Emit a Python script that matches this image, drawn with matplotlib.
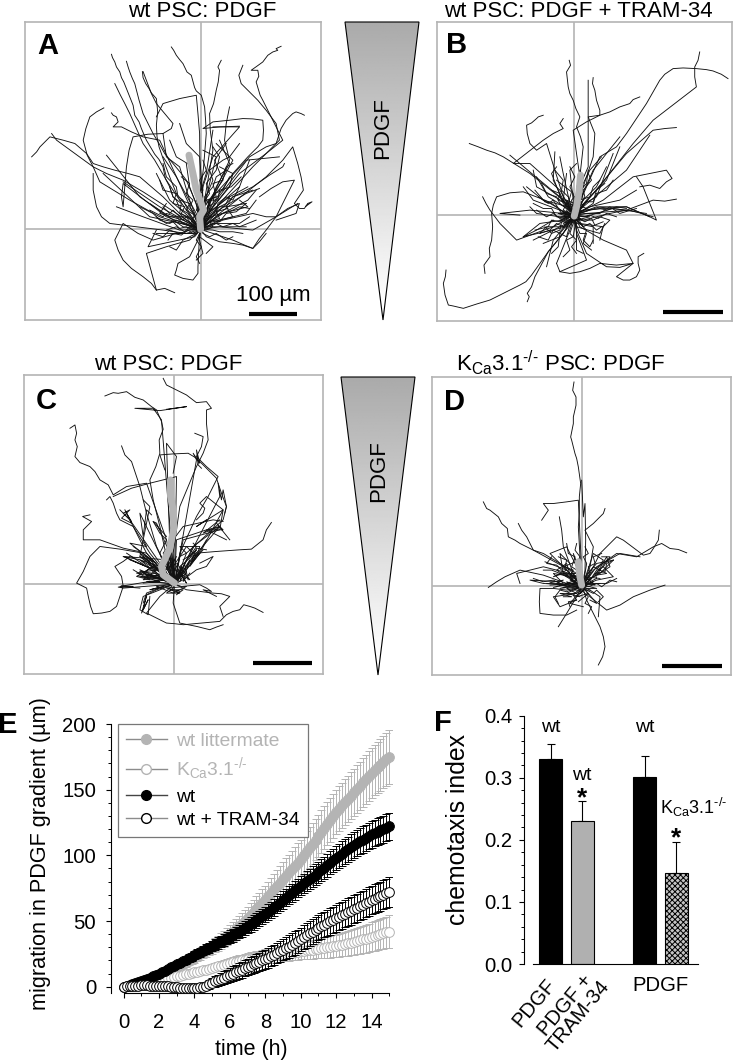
import numpy as np
import matplotlib
matplotlib.use('Agg')
import matplotlib.pyplot as plt
from matplotlib.patches import Polygon
from matplotlib.lines import Line2D
from matplotlib.ticker import MultipleLocator
from matplotlib.transforms import ScaledTranslation

plt.rcParams['font.family'] = ['Liberation Sans', 'DejaVu Sans']
plt.rcParams['mathtext.fontset'] = 'custom'
plt.rcParams['mathtext.rm'] = 'Liberation Sans'
plt.rcParams['mathtext.default'] = 'rm'
plt.rcParams['hatch.linewidth'] = 0.7

W, H = 733, 1061
GRAY = '#b4b4b4'
KCA = r'K$_{\mathrm{Ca}}$3.1$^{\text{-/-}}$'

# --- panel E data (time in h at 10 min steps, migration in um)
time_h = [i / 6 for i in range(91)]
wt_lit = [0,.4,.9,1.3,1.8,2.4,3, 3.7,4.5,5.2,6,6.8,8, 9,10.2,11.3,12.5,13.8,15, 16.2,17.3,18.5,19.6,20.8,22,
          23.3,24.6,25.9,27.2,28.6,30, 31.5,33,34.6,36.3,38.1,40, 42,44,46,48,50,52, 54.3,56.6,59,61.3,63.6,66,
          68.7,71.4,74,76.6,79.3,82, 84.5,87,89.5,92,94.5,97, 100,103,106,109,112,115, 118,121,124,127,130,133,
          135.5,138,140.5,143,145.5,148, 150.5,153,155.5,158,160.5,163, 165,167,169,171,173,175]
wt_lit_err = [0,.2,.3,.4,.5,.6,.8, .9,1,1.1,1.3,1.4,1.6, 1.8,2,2.1,2.3,2.4,2.6, 2.8,3,3.2,3.4,3.6,3.8,
              4,4.2,4.4,4.6,4.8,5, 5.3,5.6,6,6.3,6.6,7, 7.3,7.6,8,8.3,8.6,9, 9.3,9.6,10,10.3,10.6,11,
              11.3,11.6,12,12.3,12.6,13, 13.3,13.6,14,14.3,14.6,15, 15.2,15.4,15.5,15.7,15.8,16, 16.2,16.4,16.5,16.7,16.8,17,
              17.2,17.4,17.5,17.7,17.8,18, 18.2,18.4,18.5,18.7,18.8,19, 19.3,19.5,19.8,20,20.3,20.5]
kca = [0,.3,.6,1,1.3,1.6,2, 2.5,3,3.5,4,4.5,5, 5.5,6,6.5,7,7.5,8, 8.5,9,9.5,10,10.5,11, 11.5,12,12.5,13,13.5,14,
       14.7,15.4,16,16.6,17.3,18, 18.5,19,19.5,20,20.5,21, 21.3,21.7,22,22.3,22.7,23, 23.3,23.7,24,24.3,24.7,25,
       25.3,25.7,26,26.3,26.7,27, 27.3,27.7,28,28.3,28.7,29, 29.3,29.7,30,30.3,30.7,31, 31.5,32,32.5,33,33.5,34,
       34.7,35.4,36,36.6,37.3,38, 38.7,39.4,40,40.6,41.3,42]
kca_err = [0,.2,.3,.3,.4,.4,.5, .6,.6,.7,.8,.9,1, 1.1,1.2,1.3,1.4,1.5,1.6, 1.7,1.8,1.9,2,2.1,2.2, 2.3,2.4,2.5,2.6,2.7,2.8,
           3,3.2,3.3,3.5,3.7,3.8, 4,4.2,4.3,4.5,4.7,4.8, 4.9,5,5.1,5.2,5.3,5.4, 5.5,5.5,5.6,5.7,5.8,5.8,
           5.9,5.9,6,6,6.1,6.2, 6.4,6.6,6.8,7,7.2,7.4, 7.6,7.8,8,8.2,8.4,8.6, 8.8,9,9.2,9.4,9.6,9.8,
           10,10.2,10.4,10.6,10.8,11, 11.2,11.4,11.6,11.8,12,12.3]
wt = [0,.6,1.3,2,2.7,3.3,4, 5,6,7,8,9,10, 11.2,12.3,13.5,14.7,15.8,17, 18.2,19.3,20.5,21.7,22.8,24, 25.2,26.3,27.5,28.7,29.8,31,
      32.2,33.3,34.5,35.7,36.8,38, 39.3,40.6,42,43.3,44.6,46, 47.5,49,50.5,52,53.5,55, 56.8,58.6,60.5,62.3,64.1,66,
      67.8,69.6,71.5,73.3,75.1,77, 78.7,80.3,82,83.7,85.3,87, 88.8,90.6,92.5,94.3,96.1,98, 99.7,101.3,103,104.7,106.3,108,
      109.3,110.7,112,113.3,114.7,116, 117,118,119,120,121,122]
wt_err = [0,.2,.3,.4,.5,.6,.8, .9,1,1.1,1.2,1.4,1.5, 1.7,1.8,2,2.1,2.3,2.4, 2.6,2.8,2.9,3,3.1,3.2, 3.3,3.5,3.6,3.7,3.8,4,
          4.1,4.3,4.4,4.5,4.6,4.8, 4.9,5,5.1,5.2,5.3,5.4, 5.5,5.6,5.7,5.8,5.9,6, 6.1,6.2,6.3,6.4,6.5,6.6,
          6.7,6.8,6.9,7,7.1,7.2, 7.4,7.6,7.7,7.9,8,8.2, 8.4,8.5,8.7,8.8,9,9.1, 9.2,9.3,9.4,9.5,9.6,9.7,
          9.8,9.9,10,10,10.1,10.1, 10.2,10.2,10.3,10.3,10.4,10.4]
tram = [0,.2,.4,.6,.8,.9,1, 1,1,.9,.9,.8,.7, .6,.4,.2,0,-.2,-.5, -.8,-1,-1.1,-1.2,-1.1,-1, -.8,-.5,0,.7,1.7,3,
        4,5,6,7,8,9, 10,11,12,13,14,15, 16,17,18,19,20,21, 22,23.2,24.4,25.5,26.8,28, 29.3,30.6,32,33.3,34.6,36,
        37.5,39,40.5,42,43.5,45, 46.2,47.3,48.5,49.7,50.8,52, 53.2,54.3,55.5,56.7,57.8,59, 60.2,61.3,62.5,63.7,64.8,66,
        67,68,69,70,71,72]
tram_err = [0,.2,.3,.4,.4,.5,.6, .6,.7,.8,.8,.9,1, 1,1.1,1.2,1.3,1.4,1.5, 1.6,1.7,1.8,2,2.1,2.2, 2.4,2.6,2.8,3,3.3,3.6,
            3.9,4.1,4.4,4.7,4.9,5.2, 5.4,5.6,5.8,6,6.2,6.4, 6.6,6.7,6.9,7,7.2,7.3, 7.4,7.6,7.7,7.8,7.9,8,
            8.2,8.4,8.6,8.8,8.9,9, 9.1,9.2,9.3,9.4,9.5,9.6, 9.7,9.8,9.9,10,10.1,10.2, 10.3,10.4,10.4,10.5,10.5,10.6,
            10.6,10.7,10.7,10.8,10.8,10.9, 10.9,11,11,11.1,11.1,11.2]
legend_labels = ['wt littermate', KCA, 'wt', 'wt + TRAM-34']
x_ticks_e = [0, 2, 4, 6, 8, 10, 12, 14]
y_ticks_e = [0, 50, 100, 150, 200]

# --- panel F data
bar_pos = [0, 1, 3, 4]
bar_vals = [0.33, 0.23, 0.302, 0.146]
bar_top = [0.355, 0.263, 0.335, 0.196]
bar_labels = ['PDGF', 'PDGF +\nTRAM-34', 'PDGF']
y_ticks_f = [0.0, 0.1, 0.2, 0.3, 0.4]

# --- panels A-D: tracks (start at the origin of each plot), flat x,y lists
ORIG_A = (603, 688)
TRACKS_A = [
 [590,670,575,655,565,640,540,625,530,600,520,590,510,560,497,535,490,500,478,478,465,462,452,440,440,420,425,385,418,365,405,345,400,315,390,290,382,270,372,245,365,232,360,215,350,200,345,185,338,172,335,162],
 [580,640,530,580,510,530,495,490,485,460,478,440,472,410,470,375,474,335,470,295,455,278,448,265,438,250,430,232,428,214],
 [590,610,560,540,545,520,520,490,495,460,478,430,460,400,445,370,430,340,418,300,405,250,398,235,390,215,385,200,380,183],
 [560,630,500,540,465,480,430,430,410,385,390,340,375,310,362,285,345,250],
 [600,600,612,500,620,400,618,360,615,320,608,295,605,285,590,272,585,262,575,225,562,215,550,190,540,178,530,165,522,150,515,140],
 [615,600,640,450,632,390,630,340,642,310,650,270,656,245,660,210,655,200,665,180],
 [640,620,720,520,800,460,850,420,835,390,820,360,805,330,790,300,782,285,770,245,778,228,775,210,755,210,772,198,790,185,805,165,820,155,835,150,830,145,845,138],
 [660,610,760,500,800,460,840,420,830,370,800,330,775,300,750,275,725,250,718,225,730,195],
 [660,640,800,530,850,480,880,440,895,490,905,530,912,570,885,610,900,625,915,625,925,610,938,605,920,618],
 [670,660,760,640,800,650,830,650,865,625,900,610,890,640,860,650,830,660],
 [640,700,700,720,735,735,760,745,780,715,800,690,830,650,845,620,860,590,885,540,850,545,815,565,780,590],
 [650,600,750,470,800,440,830,430,840,400,845,385,860,360,880,340,890,335,905,340,915,345],
 [640,650,700,590,760,560,810,525,850,500,855,490],
 [620,640,700,520,745,470,775,440,790,420,792,390,790,360,760,356,730,355,690,360,640,365,610,385,660,380,720,378],
 [560,660,490,590,420,530,385,520,345,510,310,500,280,490,260,460,225,430,190,420,150,410,135,425,120,440,110,455,95,470],
 [500,620,430,575,370,540,320,520,280,500,225,460,170,420,155,400],
 [480,650,390,600,300,545,280,500,262,465,250,420,258,385,270,350,290,335,312,323],
 [590,700,530,700,460,720,415,700,370,670,345,720,355,750,370,780,395,805,430,830,455,850,470,870,495,865,525,878],
 [560,700,490,690,410,680,330,670,305,650,290,620,280,570,280,520],
 [595,720,570,770,535,790,530,810,525,825,550,835,580,840,595,820,595,800,600,700],
 [570,720,500,740,440,760,455,815,470,870],
 [620,710,660,725,700,730,730,735,760,745,780,725,800,700],
 [500,650,370,550,365,590,370,620,375,560,380,500,388,450,400,410,445,402,490,400,515,385,520,370,495,340,470,310,455,280,430,214],
 [600,400,595,340,590,285,540,295,490,310,480,330,470,350],
 [570,600,540,500,500,470,490,400],
 [480,420,430,410,395,395,365,380,340,380,355,365,350,350,340,345,335,338],
 [600,670,690,480,675,420,680,370,690,320],
 [640,640,740,580,780,565],
 [630,650,745,620,720,600],
 [630,600,740,480,840,470],
 [610,560,640,470,720,380,640,380],
 [660,680,760,690,830,650,895,610],
 [590,680,450,650,310,520],
 [550,680,420,590,320,465],
 [570,670,480,620,370,545],
 [540,690,430,650,350,620],
 [600,710,640,740,620,760],
 [585,710,445,740,470,690],
 [610,590,600,470,560,430,540,370],
 [650,560,690,490,660,420],
 [625,570,650,470,610,450],
 [590,580,580,500,530,470,510,420],
 [640,630,720,560,750,480],
 [650,650,745,600,770,570],
 [660,660,740,640,770,600],
 [580,660,510,600,470,520],
 [590,640,530,530,490,470],
 [610,650,690,590,745,560],
 [620,670,700,650,680,620,740,610],
 [550,660,480,640,500,610],
 [565,650,510,650,450,610],
 [640,670,720,670,750,650],
 [600,640,570,560,560,490],
 [615,620,670,540,645,480,680,430],
 [630,610,700,480,650,430],
 [625,640,690,560,700,520,660,500],
 [580,700,520,700,470,700],
 [610,680,680,680,740,680],
 [600,720,610,760,590,780],
 [595,600,620,520,640,390],
 [590,670,580,680,560,650,550,660,520,630,510,640,490,620],
 [610,670,620,655,640,650,650,625,680,610,690,590],
 [620,675,635,660,660,665,680,640,710,635,740,610],
 [595,665,600,640,590,630,605,600,595,590,610,560],
 [580,690,560,680,540,685,520,665,500,670,470,650],
 [575,680,550,670,530,650,500,640,490,650,450,630],
 [630,680,650,670,670,680,700,670,720,680,770,660],
 [625,660,650,640,655,610,680,590,700,600,720,560],
 [615,650,625,620,640,610,645,580,670,570,690,530],
 [605,640,620,610,615,590,640,560,650,530,680,510],
 [590,650,570,620,580,600,560,580,570,550,545,530],
 [585,670,565,650,540,640,545,610,520,590,510,560],
 [600,700,590,720,605,740,590,770,600,790],
 [590,700,570,710,550,720,530,750,510,740],
 [610,700,630,710,650,700,680,720,700,710],
 [570,690,540,700,510,690,490,710,460,700],
 [640,690,660,695,700,695,730,700],
 [620,640,630,600,650,590,640,550,670,540,680,500,700,490],
 [630,650,660,620,680,620,700,590,730,580,760,570],
 [640,660,670,640,700,630,720,620,750,625],
 [560,670,530,660,510,670,480,660,460,640,420,620],
 [600,620,590,600,610,570,600,540,620,510,610,480],
 [610,610,630,580,620,550,650,510,660,470,640,440],
 [570,640,550,600,535,590,530,560,500,530,490,490],
 [615,600,640,540,630,510,670,480,690,470,720,430],
 [590,690,570,680,555,695,530,680,500,690],
 [605,670,610,640,625,650,635,620,620,600,650,590],
 [595,680,575,665,585,645,560,630,570,610,540,600],
 [620,690,640,680,630,665,660,655,650,635,685,625],
 [580,700,565,690,545,705,520,700,505,720],
 [610,660,630,630,625,600,655,600,660,570,695,560,725,530],
 [575,660,545,640,555,620,520,610,530,580,490,570,480,540],
]
MEAN_A = [603,688,600,650,612,630,590,570,580,520,568,465]

ORIG_B = (463, 645)
TRACKS_B = [
 [470,600,480,530,490,440,482,410,470,380,480,350,468,325,460,300,450,280,445,260,440,215,452,195,448,180],
 [470,580,505,500,505,240],
 [490,560,520,470,525,400,515,375,505,350,540,345,540,330,530,300,525,270,518,250,520,232],
 [500,560,540,470,590,440,620,400,640,370,680,310,720,240,735,222,760,205,790,203,830,205,860,208,880,212,905,222,925,235],
 [520,580,620,460,660,425,700,390,735,385,770,382],
 [530,570,640,430,670,395,700,360,765,310,830,260,825,230,825,200,835,180,840,155],
 [490,600,460,390,500,365,540,345,570,335,600,320,630,310,640,298,660,290],
 [530,620,620,630,660,615,700,600,735,603,770,597],
 [540,620,620,620,690,650,710,660,690,610,670,560,650,530],
 [550,600,640,530,690,520,740,510,757,535,740,545,720,565,690,555,660,560],
 [480,680,550,720,620,750,630,770,640,790,615,810,590,830,610,840,630,840,650,830,660,810,655,790,655,770,672,760],
 [470,690,500,760,560,800,600,802,640,790,590,795,540,790,510,805,480,815,450,820,420,815],
 [430,700,385,755,360,790,335,825,318,845,300,855,250,880,210,900,170,912,130,925,100,918,85,915,75,885,70,850,76,830,78,810],
 [430,700,385,755,345,830,335,860,322,880,328,890,322,905],
 [440,640,375,600,310,575,270,578,230,590,220,615,215,640,218,680,215,720,208,745,210,770,192,795,195,820],
 [400,680,345,700,290,720,265,695,240,670,225,650,210,630,198,610,188,590],
 [430,600,380,560,330,520,290,495,250,470,225,458,200,450,175,440,148,430],
 [430,590,405,510,380,430,350,450,330,430,322,400,320,375,335,368,350,355,355,350,370,345],
 [420,570,375,530,330,490,280,490,325,455,370,420,400,400,430,385,420,370,430,355],
 [420,590,345,528,270,465],
 [440,680,375,695,310,710,350,690,400,660],
 [470,700,500,780,420,815,410,790],
 [430,640,330,630,240,640,300,645],
 [450,660,400,720,380,800],
 [480,600,520,510,600,410],
 [490,620,620,510,690,405],
 [490,630,620,620,690,650],
 [500,640,630,630,700,650],
 [510,620,600,600,650,570],
 [420,630,340,600,310,560],
 [440,620,400,540,405,455],
 [450,610,430,520,420,470],
 [460,600,450,510,470,490],
 [470,590,510,510,545,470],
 [480,610,530,560,560,500],
 [430,660,360,670,310,710],
 [440,670,380,700,340,720],
 [470,680,540,700,555,670],
 [480,670,550,680,540,720],
 [450,690,430,740,410,790],
 [470,690,470,750,490,760],
 [440,610,350,560,340,510],
 [445,620,370,600,320,560],
 [450,630,385,590,350,530],
 [490,660,570,640,620,630],
 [455,600,500,550,505,510],
 [430,610,395,520,410,500],
 [420,650,350,640,330,620],
 [475,620,530,590,580,460],
 [500,600,560,540,600,440],
 [495,650,580,625,680,640],
 [430,680,380,680,360,700],
 [470,670,520,680,520,730],
 [455,670,420,710,370,730],
 [450,640,430,630,440,610,415,600,420,580,395,570],
 [470,630,490,620,480,600,510,590,520,560,540,540],
 [480,640,510,630,540,625,560,630,590,620,620,625],
 [450,650,420,655,400,640,380,650,350,630],
 [455,660,430,680,410,670,390,690,360,700],
 [470,660,490,680,510,670,530,690,545,680],
 [460,670,450,700,470,720,455,740,470,760],
 [475,665,500,690,490,720,510,740,520,720],
 [440,650,420,665,395,660,385,680,345,690],
 [445,630,420,610,410,590,380,580,365,550],
 [455,620,445,590,425,570,430,540,405,510],
 [465,610,460,580,450,560,465,530,450,500],
 [480,620,495,590,490,570,515,540,505,520],
 [490,630,520,610,530,580,560,570,580,540],
 [500,640,540,640,570,620,600,640,650,625],
 [445,670,420,700,400,690,385,720,355,710],
 [450,675,440,710,420,700,415,740,395,760],
 [470,675,480,700,500,700,490,730,515,750],
 [485,660,520,660,540,650,570,660,550,680],
 [440,655,410,650,395,625,370,625,340,610],
 [435,640,410,620,395,610,375,605,345,570],
 [470,620,480,590,470,560,490,530,480,510],
 [455,630,440,600,430,600,435,560,410,540],
 [480,630,500,605,520,605,530,570,555,550],
 [490,650,510,645,535,655,560,640,590,650],
 [450,665,425,665,420,690,395,700,375,680],
 [465,680,460,710,440,720,450,750,430,770],
 [475,655,495,665,515,655,525,675,550,665],
 [440,635,425,640,400,600,385,610,355,590],
 [460,615,445,610,455,575,435,560,440,520],
 [470,650,455,640,480,635,450,625,485,660,440,660],
 [450,645,480,650,445,665,470,670,440,630],
 [430,650,470,640,420,660,475,660,415,640,490,630],
 [420,640,510,650,430,670,500,625,440,600,490,680],
]
MEAN_B = [463,648,470,620,478,570,482,525]

ORIG_C = (524, 733)
TRACKS_C = [
 [500,650,480,560,460,480,450,420,468,380,480,340,478,300,490,268,485,245,470,210,455,200,430,180,405,172,380,155,355,160,340,158,315,168],
 [520,640,540,500,590,380,610,340,625,300,620,250,620,210,635,205,620,185,590,188,560,165,520,145,500,135,490,115],
 [485,240,460,205,405,205,480,212,560,200,500,208],
 [500,600,440,430,380,440,340,465,325,435,300,420,285,395,270,380,240,368,225,350,232,320,225,300,230,280,225,255,210,265],
 [450,640,400,560,360,540,350,520,340,490,330,470,320,480],
 [470,620,440,520,420,440,400,380,395,365,375,345,365,318],
 [540,640,590,530,625,470,655,410,620,380,590,350,605,320,610,290,585,280],
 [560,640,670,540,680,500,665,460,650,415,620,385,590,355,565,340,520,342,480,345,495,390],
 [590,640,650,635,720,630,755,628,790,600,795,585,800,570,815,548],
 [550,600,660,570,670,510,645,490,620,470,600,490,615,505,610,520,590,540],
 [430,640,360,628,300,620,270,650,250,695,230,730,260,745,265,770,272,800,280,822,305,820,330,815,350,800,360,770,370,740,365,710,345,680,370,665,390,650],
 [440,640,370,625,300,600,250,600,250,570,275,545,248,530,270,525],
 [480,770,440,820,470,835,500,850,525,852,550,855,605,850,660,845,680,825,700,815,720,810,732,795,750,800,765,805,790,818],
 [560,750,640,760,665,762,690,770,660,800,665,815,670,830],
 [520,790,540,850,590,860,630,870,650,862,670,855],
 [430,770,420,810,445,825,450,770],
 [450,725,360,740,420,745],
 [510,620,500,310,530,350,520,400],
 [420,520,430,590,440,510,455,525],
 [510,640,470,550,460,545,500,590],
 [440,640,380,520,395,545,360,510],
 [420,650,450,500,430,480],
 [500,660,370,650,440,680,380,640],
 [540,680,600,630,660,560,610,580,660,540],
 [560,660,590,630,570,650,590,620,580,610],
 [560,690,540,680,570,720,540,700,560,730,530,680],
 [440,705,420,690,480,715,430,720,470,690,410,700,500,720],
 [510,700,520,660,505,690,530,650,515,680],
 [600,640,670,510,590,560,620,540],
 [530,410,490,420,450,430,395,445,340,470],
 [490,640,550,560,640,540,670,545],
 [530,600,620,570,680,600],
 [470,740,520,760,560,740,500,745,540,755],
 [520,680,560,620,580,640,550,660],
 [430,650,490,700,420,660,480,680],
 [505,725,430,700,500,715,425,712,490,705,420,695],
 [500,730,440,725,495,722,415,708,480,725,430,730],
 [530,720,550,690,540,725,560,695,550,725,570,700],
 [535,725,545,680,530,715,555,675,565,720],
 [520,715,510,670,525,690,505,650,520,680,515,640],
 [540,710,570,660,560,690,590,645,575,670,610,630],
 [545,700,580,650,600,640,570,680,590,625,620,630],
 [490,720,440,680,480,695,420,650,470,670,400,620],
 [480,710,420,640,460,665,390,610,440,620,430,600],
 [470,700,420,660,370,650,450,685,390,660],
 [520,745,500,760,540,760,510,750,550,750,530,765],
 [500,740,470,745,450,750,490,740,440,760,430,790],
 [470,750,440,765,430,810,445,780,425,820,440,770],
 [545,740,600,735,620,745,635,755,610,750,650,770],
 [540,650,560,640,540,620,600,620,590,650,620,600],
 [580,620,660,560,620,570,670,570,650,550,690,600],
 [390,540,370,520,390,510,365,535,395,550,375,510],
 [590,360,580,340,600,370,590,330,595,375,605,385],
 [660,470,655,430,665,480,670,450,680,500,675,520],
 [510,700,495,660,515,655,500,690,520,610],
 [500,700,480,640,500,600,480,580,460,545],
 [550,720,590,690,620,680,640,650,600,670],
 [370,745,355,742,400,740,365,738],
 [430,700,460,680,410,710,450,720,400,690],
 [520,700,535,670,510,680,540,700,515,720],
]
MEAN_C = [524,730,490,705,485,680,510,625,522,565,520,510,512,470,512,420]

ORIG_D = (487, 738)
TRACKS_D = [
 [480,650,475,560,478,520,478,470,482,430,475,380,470,355,465,340,455,300,452,290,460,250,460,230,468,195,468,170,458,150,462,125],
 [495,690,497,600,495,490,490,530,485,420],
 [470,700,370,640,340,630,300,610,285,600,265,590,262,565,245,550,235,530,210,510,200,505,190,485],
 [450,690,340,630,330,610,320,590,305,570,295,550],
 [460,700,430,620,425,570,418,530],
 [475,480,440,485,400,490,370,490,385,510,375,525,365,540],
 [510,680,520,620,495,570,520,550,540,530,550,520,555,505],
 [510,700,540,640,590,590,610,600,650,630,670,645,690,640,700,625,715,600,718,570],
 [520,690,590,640,650,650,700,620,725,610,750,625,775,628,800,638],
 [530,680,600,640,660,650],
 [440,730,370,705,300,690,255,710,230,725,205,742],
 [510,770,560,810,600,795,640,770,690,750,735,735],
 [500,780,520,820,540,860,550,890,555,920,548,950,535,975],
 [470,770,440,820,415,860],
 [440,750,400,745,360,745,358,785,360,820,400,825,440,825,470,810],
 [470,760,400,770,420,800,470,780],
 [450,700,370,680,290,700,300,730],
 [440,690,390,640,440,620,470,680],
 [430,700,420,640,450,670],
 [520,710,570,680,560,650,530,700],
 [530,720,580,710,550,680],
 [500,700,520,640,550,660,510,720],
 [510,750,540,770,535,830],
 [460,710,400,700,430,730,380,730],
 [440,735,370,730,330,720,420,725],
 [455,720,440,670,410,690,470,730],
 [470,720,430,680,480,660],
 [510,730,560,730,590,715],
 [505,760,530,790,510,780],
 [470,745,440,760,480,770],
 [495,710,530,670,580,660],
 [480,720,460,640,475,680],
 [500,720,540,700,580,660],
 [460,740,420,745,470,730,390,735],
 [500,745,530,745,490,735,540,730],
 [475,760,450,790,490,800],
 [470,735,440,725,450,740,410,730,430,720,390,728],
 [475,725,450,705,460,690,435,680,440,660,415,650],
 [480,720,470,690,455,680,465,650,445,640,440,610],
 [495,725,510,700,505,680,525,670,520,650,545,640],
 [500,730,530,715,525,700,555,695,560,670,580,660],
 [505,740,530,730,545,740,570,720,590,725],
 [500,750,520,760,530,750,550,770,535,785],
 [490,755,505,770,495,790,515,800,505,820],
 [475,750,460,765,470,780,445,785,450,800],
 [465,745,440,755,420,750,405,770,415,790],
 [460,730,430,735,400,720,370,725,340,715],
 [470,715,440,710,420,700,395,690,370,690],
 [485,700,470,670,480,650,465,630,470,610],
 [495,700,500,670,490,650,505,640,495,620],
 [510,720,535,690,550,680,570,650,545,650],
 [460,720,435,700,410,675,380,670,395,650],
 [455,740,420,735,465,728,400,742,470,720],
 [500,735,470,745,520,725,460,750,510,750],
 [480,760,495,745,470,770,505,760,475,785],
 [450,720,480,700,445,700,490,715,430,700],
 [515,715,480,725,525,735,495,710,540,715],
 [440,745,470,760,420,760,455,770,430,770],
 [470,700,430,700,400,710,440,690,375,665],
 [505,700,520,680,560,700,530,705,560,660],
]
MEAN_D = [485,735,478,700,475,665]


def px(ax_box):
    x0, y0, x1, y1 = ax_box
    return [x0 / W, 1 - y1 / H, (x1 - x0) / W, (y1 - y0) / H]


fig = plt.figure(figsize=(W / 100, H / 100), dpi=100)


def track_panel(box, lims, orig, tracks, mean, letter, letter_xy, title, title_x, pad, bar):
    ax = fig.add_axes(px(box))
    ax.set_xlim(lims[0], lims[1])
    ax.set_ylim(lims[2], lims[3])
    ax.set_xticks([])
    ax.set_yticks([])
    for s in ax.spines.values():
        s.set_color(GRAY)
        s.set_linewidth(1.2)
    ax.axvline(orig[0], color=GRAY, lw=1.2, zorder=1)
    ax.axhline(orig[1], color=GRAY, lw=1.2, zorder=1)
    for t in tracks:
        ax.plot([orig[0]] + t[0::2], [orig[1]] + t[1::2], color='#111111', lw=0.65, zorder=2,
                solid_joinstyle='round')
    ax.plot(mean[0::2], mean[1::2], color=GRAY, lw=5, zorder=3, solid_capstyle='round')
    ax.plot(bar[:2], [bar[2]] * 2, color='black', lw=3, solid_capstyle='butt', zorder=4)
    ax.text(letter_xy[0], letter_xy[1], letter, fontsize=21, fontweight='bold', ha='center', va='center')
    ax.set_title(title, fontsize=16, x=title_x, pad=pad)
    return ax


axA = track_panel((25, 22, 321, 320), (75, 965, 960, 65), ORIG_A, TRACKS_A, MEAN_A, 'A', (143, 138),
                  'wt PSC: PDGF', 0.6, 2, (750, 892, 943))
axA.text(822, 885, '100 µm', fontsize=16, ha='center', va='center')
track_panel((436.7, 22, 732, 321), (50, 937, 963, 65), ORIG_B, TRACKS_B, MEAN_B, 'B', (110, 135),
            'wt PSC: PDGF + TRAM-34', 0.48, 2, (730, 910, 935))
track_panel((24, 375, 323, 674), (72, 970, 1003, 105), ORIG_C, TRACKS_C, MEAN_C, 'C', (140, 183),
            'wt PSC: PDGF', 0.482, 3, (760, 938, 969))
track_panel((432, 377, 731, 675), (36, 933, 1005, 110), ORIG_D, TRACKS_D, MEAN_D, 'D', (105, 185),
            KCA + ' PSC: PDGF', 0.431, 3, (727, 906, 977))

# overlay for wedges and free annotations
top = fig.add_axes([0, 0, 1, 1], facecolor='none', zorder=30)
top.set_xlim(0, W)
top.set_ylim(H, 0)
top.axis('off')
for (xl, xr, xa, yt, yb, ty) in [(345, 419, 383, 22, 320, 128), (341, 415, 378, 377, 675, 471)]:
    im = top.imshow(np.linspace(0, 1, 256)[:, None], extent=(xl, xr, yb, yt), cmap='gray',
                    vmin=-1.9, vmax=0.95, aspect='auto')
    tri = Polygon([(xl, yt), (xr, yt), (xa, yb)], closed=True, fc='none', ec='black', lw=0.8,
                  transform=top.transData)
    top.add_patch(tri)
    im.set_clip_path(tri)
    top.text((xl + xr) / 2 + 1, ty, 'PDGF', rotation=90, fontsize=16, ha='center', va='center')
top.set_xlim(0, W)
top.set_ylim(H, 0)

# --- panel E
FS = 14.6
axE = fig.add_axes(px((110.7, 724, 392, 993)))
axE.set_xlim(-0.73, 15.15)
axE.set_ylim(-4.8, 200)
for s in ('top', 'right'):
    axE.spines[s].set_visible(False)
axE.spines['bottom'].set_bounds(0, 15)
series = [
    (wt_lit, wt_lit_err, GRAY, GRAY, GRAY),
    (kca, kca_err, GRAY, 'white', GRAY),
    (wt, wt_err, 'black', 'black', 'black'),
    (tram, tram_err, 'black', 'white', 'black'),
]
for i, (y, e, c, fc, ec) in enumerate(series):
    axE.errorbar(time_h, y, yerr=e, color=c, fmt='none', elinewidth=0.7, capsize=2.8, capthick=0.7,
                 zorder=2 + i)
    axE.plot(time_h, y, '-o', color=c, mfc=fc, mec=ec, ms=7, mew=0.7, lw=0.8, zorder=2.5 + i, clip_on=False)
axE.set_xticks(x_ticks_e)
axE.set_yticks(y_ticks_e)
axE.xaxis.set_minor_locator(MultipleLocator(1))
axE.yaxis.set_minor_locator(MultipleLocator(10))
axE.tick_params(axis='both', which='major', labelsize=FS, length=3.5, width=0.8)
axE.tick_params(axis='both', which='minor', length=2, width=0.7)
axE.tick_params(axis='x', which='major', pad=11)
axE.tick_params(axis='y', which='major', pad=7)
axE.set_xlabel('time (h)', fontsize=15.5, labelpad=5)
axE.set_ylabel('migration in PDGF gradient (µm)', fontsize=15.6, labelpad=8, y=0.52)
handles = [
    Line2D([], [], color='#8c8c8c', lw=1, marker='o', ms=7, mfc=GRAY, mec=GRAY),
    Line2D([], [], color='#8c8c8c', lw=1, marker='o', ms=7, mfc='white', mec=GRAY),
    Line2D([], [], color='#444444', lw=1, marker='o', ms=7, mfc='black', mec='black'),
    Line2D([], [], color='#8c8c8c', lw=1, marker='o', ms=7, mfc='white', mec='black'),
]
leg = axE.legend(handles, legend_labels, loc='upper left', bbox_to_anchor=(118 / W, 1 - 724 / H),
                 bbox_transform=fig.transFigure,
                 fontsize=13.9, frameon=True, fancybox=False, edgecolor='#777777', framealpha=1,
                 handlelength=2.1, handletextpad=0.5, labelspacing=0.3, borderpad=0.42, borderaxespad=0)
leg.get_frame().set_linewidth(0.9)
leg.set_zorder(20)
for txt, col in zip(leg.get_texts(), [GRAY, GRAY, 'black', 'black']):
    txt.set_color(col)

# --- panel F
axF = fig.add_axes(px((524.3, 715.7, 697.7, 964)))
axF.set_xlim(-0.847, 4.69)
axF.set_ylim(0, 0.4)
for s in ('top', 'right'):
    axF.spines[s].set_visible(False)
axF.spines['bottom'].set_bounds(-0.578, 4.69)
faces = ['black', '#b0b0b0', 'black', '#c4c4c4']
hatches = [None, None, None, 'xxxxxx']
for p, v, t, f, h in zip(bar_pos, bar_vals, bar_top, faces, hatches):
    axF.bar(p, v, width=0.73, color=f, edgecolor='black', linewidth=0.8, hatch=h, zorder=2)
    axF.errorbar(p, v, yerr=[[0], [t - v]], color='black', elinewidth=0.8, capsize=3, capthick=0.8, zorder=1)
axF.set_xticks([0, 1, 3.5])
axF.set_xticklabels(bar_labels)
axF.set_yticks(y_ticks_f)
axF.set_yticklabels([f'{v:.1f}' for v in y_ticks_f])
axF.yaxis.set_minor_locator(MultipleLocator(0.02))
axF.tick_params(axis='y', which='major', labelsize=FS, length=3.5, width=0.8, pad=5)
axF.tick_params(axis='y', which='minor', length=2, width=0.7)
axF.tick_params(axis='x', length=0, labelsize=FS, pad=8.5)
shifts = [(-4, 0), (3, 7)]
for lab, rot, (dx, dy) in zip(axF.get_xticklabels(), [50, 50], shifts):
    lab.set_rotation(rot)
    lab.set_ha('right')
    lab.set_rotation_mode('anchor')
    lab.set_linespacing(0.85)
    lab.set_multialignment('center')
    lab.set_transform(lab.get_transform() + ScaledTranslation(dx / 72, dy / 72, fig.dpi_scale_trans))
axF.set_ylabel('chemotaxis index', fontsize=17.8, labelpad=10, y=0.54)

for x, y, s, fs in [(551, 728, 'wt', 14), (582, 775, 'wt', 14), (645, 728, 'wt', 14), (694, 807, KCA, 13)]:
    top.text(x, y, s, fontsize=fs, ha='center', va='center')
top.text(582, 798, '*', fontsize=19, fontweight='bold', ha='center', va='center')
top.text(676, 838, '*', fontsize=19, fontweight='bold', ha='center', va='center')
top.text(8, 725, 'E', fontsize=21, fontweight='bold', ha='center', va='center')
top.text(443, 723, 'F', fontsize=21, fontweight='bold', ha='center', va='center')

fig.savefig('out.png', dpi=100, facecolor='white')
